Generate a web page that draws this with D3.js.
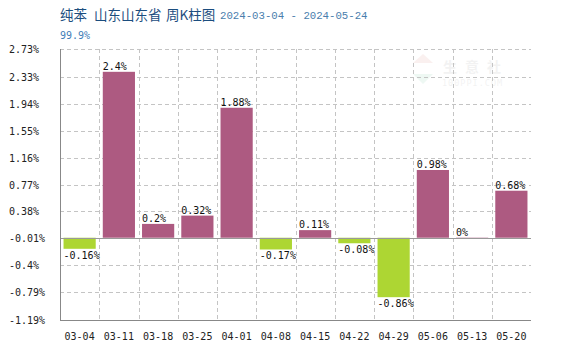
<!DOCTYPE html>
<html>
<head>
<meta charset="utf-8">
<script src="https://cdn.jsdelivr.net/npm/d3@7/dist/d3.min.js"></script>
<style>
  html, body { margin: 0; padding: 0; background: #fff; }
  svg { display: block; }
</style>
</head>
<body>
<svg id="chart" width="580" height="350"></svg>
<script>
// Weekly change of pure benzene price, Shandong
const categories = ["03-04", "03-11", "03-18", "03-25", "04-01", "04-08", "04-15", "04-22", "04-29", "05-06", "05-13", "05-20"];
const values = [-0.16, 2.4, 0.2, 0.32, 1.88, -0.17, 0.11, -0.08, -0.86, 0.98, 0, 0.68];
const tickValues = [2.73, 2.33, 1.94, 1.55, 1.16, 0.77, 0.38, -0.01, -0.4, -0.79, -1.19];
const tickLabels = ["2.73%", "2.33%", "1.94%", "1.55%", "1.16%", "0.77%", "0.38%", "-0.01%", "-0.4%", "-0.79%", "-1.19%"];
const titleParts = ["纯苯", "山东山东省", "周K柱图"];
const dateRange = "2024-03-04 - 2024-05-24";
const yMin = -1.19, yMax = 2.73;

const svg = d3.select("#chart");
const plotL = 60, plotR = 531, plotT = 49, plotB = 320;
const mono = "'DejaVu Sans Mono', monospace";
const cjk = "'Noto Sans CJK SC', sans-serif";

const x = d3.scaleBand().domain(categories).range([plotL, plotR])
  .paddingInner(0.18).paddingOuter(0.09);
const y = d3.scaleLinear().domain([yMin, yMax]).range([plotB, plotT]);
const step = x.step();

// Title
const titleX = [60, 94, 166];
svg.append("g").selectAll("text").data(titleParts).join("text")
  .attr("x", (d, i) => titleX[i]).attr("y", 20)
  .attr("font-family", cjk).attr("font-size", 13.5).attr("fill", "#1b4d7e")
  .text(d => d);
svg.append("text").attr("x", 220).attr("y", 19)
  .attr("font-family", "'Liberation Mono', monospace")
  .attr("font-size", 10.7).attr("fill", "#4a7ead")
  .text(dateRange);
svg.append("text").attr("x", 60).attr("y", 39)
  .attr("font-family", mono).attr("font-size", 10).attr("fill", "#3f80b8")
  .text("99.9%");

// Faint watermark
const wm = svg.append("g").attr("opacity", 0.07);
wm.append("path").attr("d", "M413,63 L423,54 L433,63 Z").attr("fill", "#c0392b");
wm.append("path").attr("d", "M413,74 L423,84 L433,74 Z").attr("fill", "#27ae60");
wm.append("text").attr("x", 443).attr("y", 72)
  .attr("font-family", cjk).attr("font-size", 14)
  .attr("font-weight", "bold").attr("fill", "#555").attr("letter-spacing", 8).text("生意社");
wm.append("text").attr("x", 442).attr("y", 86)
  .attr("font-family", mono).attr("font-size", 8.5).attr("fill", "#555").attr("letter-spacing", 1).text("100PPI.COM");

// Horizontal dashed gridlines
svg.append("g").selectAll("line").data(tickValues).join("line")
  .attr("x1", plotL).attr("x2", plotR)
  .attr("y1", d => Math.round(y(d)) + 0.5).attr("y2", d => Math.round(y(d)) + 0.5)
  .attr("stroke", "#c4c4c4").attr("stroke-dasharray", "4,3");

// Vertical dashed gridlines between categories
svg.append("g").selectAll("line").data(categories.slice(1)).join("line")
  .attr("x1", d => Math.round(x(d) - (step - x.bandwidth()) / 2) + 0.5)
  .attr("x2", d => Math.round(x(d) - (step - x.bandwidth()) / 2) + 0.5)
  .attr("y1", plotT).attr("y2", plotB)
  .attr("stroke", "#c4c4c4").attr("stroke-dasharray", "4,3");

// Y tick labels
svg.append("g").selectAll("text").data(tickValues).join("text")
  .attr("x", 9).attr("y", d => y(d) + 4)
  .attr("font-family", mono).attr("font-size", 10).attr("fill", "#222")
  .text((d, i) => tickLabels[i]);

// Bars
svg.append("g").selectAll("rect").data(values).join("rect")
  .attr("x", (d, i) => x(categories[i]))
  .attr("width", x.bandwidth())
  .attr("y", d => d >= 0 ? y(d) : y(0))
  .attr("height", d => Math.max(Math.abs(y(d) - y(0)), 1))
  .attr("fill", d => d >= 0 ? "#ad5a81" : "#add633");

// Zero line
svg.append("line").attr("x1", plotL).attr("x2", plotR)
  .attr("y1", Math.round(y(0)) + 0.5).attr("y2", Math.round(y(0)) + 0.5)
  .attr("stroke", "#999");

// Axis lines
svg.append("line").attr("x1", plotL + 0.5).attr("x2", plotL + 0.5)
  .attr("y1", plotT).attr("y2", plotB).attr("stroke", "#888");
svg.append("line").attr("x1", plotL).attr("x2", plotR)
  .attr("y1", plotB + 0.5).attr("y2", plotB + 0.5).attr("stroke", "#888");

// Value labels
svg.append("g").selectAll("text").data(values).join("text")
  .attr("x", (d, i) => x(categories[i]))
  .attr("y", d => d >= 0 ? y(d) - 2 : y(d) + 10)
  .attr("font-family", mono).attr("font-size", 10).attr("fill", "#111")
  .text(d => d + "%");

// X category labels
svg.append("g").selectAll("text").data(categories).join("text")
  .attr("x", d => x(d) + x.bandwidth() / 2).attr("y", 340)
  .attr("text-anchor", "middle")
  .attr("font-family", mono).attr("font-size", 10).attr("fill", "#222")
  .text(d => d);
</script>
</body>
</html>
